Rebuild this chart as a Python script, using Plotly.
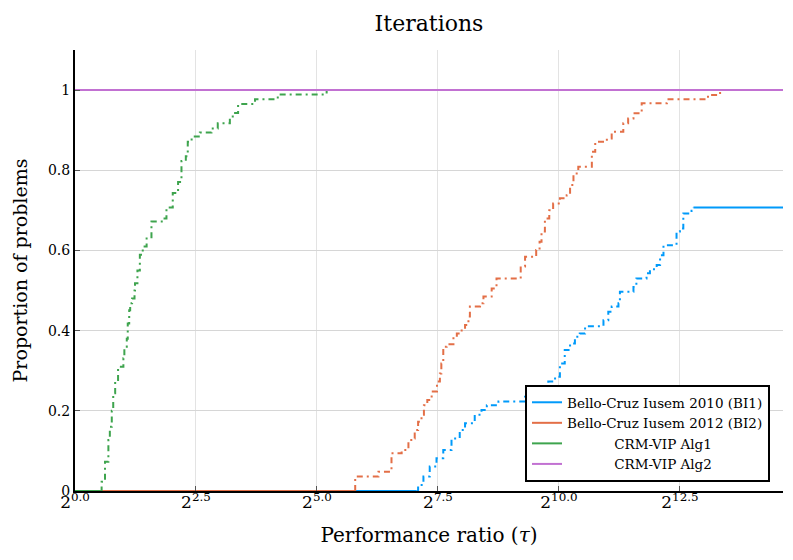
import plotly.graph_objects as go

# ---- data (x values are log2(tau); y values are proportion of problems) ----
series_names = ["Bello-Cruz Iusem 2010 (BI1)", "Bello-Cruz Iusem 2012 (BI2)",
                "CRM-VIP Alg1", "CRM-VIP Alg2"]
series_colors = ["#009AFA", "#E36F47", "#3EA44E", "#C271D2"]

bi1_log2tau = [7.06, 7.09, 7.20, 7.33, 7.47, 7.61, 7.78, 7.95, 8.06, 8.26, 8.40, 8.51, 8.75,
               9.30, 9.46, 9.68, 9.78, 9.92, 10.02, 10.12, 10.23, 10.33, 10.43, 10.54,
               10.92, 11.02, 11.09, 11.23, 11.26, 11.54, 11.60, 11.81, 11.88, 12.02, 12.09,
               12.16, 12.43, 12.50, 12.57, 12.74, 12.78]
bi1_prop = [0.0, 0.015, 0.036, 0.061, 0.082, 0.102, 0.131, 0.152, 0.169, 0.19, 0.202, 0.214, 0.223,
            0.235, 0.245, 0.256, 0.273, 0.285, 0.318, 0.352, 0.368, 0.385, 0.393, 0.411,
            0.426, 0.447, 0.46, 0.468, 0.497, 0.509, 0.53, 0.543, 0.553, 0.564, 0.588,
            0.613, 0.647, 0.655, 0.692, 0.699, 0.707]

bi2_log2tau = [5.79, 6.27, 6.54, 6.75, 6.89, 6.99, 7.02, 7.09, 7.16, 7.21, 7.28, 7.37, 7.48,
               7.54, 7.57, 7.61, 7.68, 7.82, 7.89, 7.99, 8.06, 8.13, 8.16, 8.37, 8.44, 8.61,
               8.71, 9.21, 9.30, 9.53, 9.60, 9.64, 9.71, 9.80, 9.88, 10.02, 10.16, 10.23,
               10.30, 10.40, 10.68, 10.75, 10.99, 11.09, 11.33, 11.43, 11.54, 11.71, 12.23,
               13.08, 13.33]
bi2_prop = [0.036, 0.048, 0.094, 0.102, 0.127, 0.131, 0.152, 0.173, 0.19, 0.214, 0.227, 0.248, 0.273,
            0.293, 0.318, 0.36, 0.366, 0.381, 0.393, 0.403, 0.414, 0.435, 0.46, 0.468, 0.485, 0.505,
            0.53, 0.56, 0.584, 0.601, 0.622, 0.647, 0.68, 0.70, 0.717, 0.73, 0.738, 0.763,
            0.792, 0.809, 0.846, 0.871, 0.879, 0.896, 0.917, 0.929, 0.942, 0.967, 0.977,
            0.988, 1.0]

alg1_log2tau = [0.52, 0.55, 0.62, 0.69, 0.72, 0.76, 0.79, 0.83, 0.89, 1.00, 1.02, 1.07, 1.09,
                1.12, 1.14, 1.18, 1.23, 1.24, 1.29, 1.34, 1.40, 1.48, 1.58, 1.82, 1.89, 2.02,
                2.13, 2.20, 2.29, 2.33, 2.41, 2.58, 2.82, 2.95, 3.20, 3.26, 3.37, 3.72, 4.19,
                5.20]
alg1_prop = [0.0, 0.023, 0.073, 0.127, 0.16, 0.2, 0.244, 0.277, 0.31, 0.331, 0.36, 0.38, 0.418,
             0.451, 0.468, 0.48, 0.50, 0.518, 0.55, 0.589, 0.61, 0.63, 0.672, 0.68, 0.707, 0.743,
             0.771, 0.823, 0.835, 0.871, 0.884, 0.894, 0.904, 0.917, 0.930, 0.943, 0.965, 0.977,
             0.989, 1.0]

alg2_log2tau = [0.0]
alg2_prop = [1.0]

x_ticks = [0.0, 2.5, 5.0, 7.5, 10.0, 12.5]
x_tick_labels = ["2<sup>0.0</sup>", "2<sup>2.5</sup>", "2<sup>5.0</sup>",
                 "2<sup>7.5</sup>", "2<sup>10.0</sup>", "2<sup>12.5</sup>"]
y_ticks = [0, 0.2, 0.4, 0.6, 0.8, 1.0]
y_tick_labels = ["0", "0.2", "0.4", "0.6", "0.8", "1"]

X_MAX = 14.63
Y_MAX = 1.1

FONT = "DejaVu Serif"
NB = "&nbsp;"
legend_labels = [series_names[0], series_names[1],
                 NB * 11 + series_names[2], NB * 11 + series_names[3]]

all_x = [bi1_log2tau, bi2_log2tau, alg1_log2tau, alg2_log2tau]
all_y = [bi1_prop, bi2_prop, alg1_prop, alg2_prop]

fig = go.Figure()
DASH = "6px,4px,2px,4px"
for i in range(4):
    xs, ys, col = all_x[i], all_y[i], series_colors[i]
    if len(xs) > 1:
        # solid start segment (flat at zero before first solved problem)
        fig.add_trace(go.Scatter(x=[0, xs[0]], y=[0, 0], mode="lines",
                                 line=dict(color=col, width=2), name=legend_labels[i],
                                 legendgroup=str(i), showlegend=True))
        fig.add_trace(go.Scatter(x=[xs[0]] + xs, y=[0] + ys, mode="lines", line_shape="hv",
                                 line=dict(color=col, width=2, dash=DASH),
                                 legendgroup=str(i), showlegend=False))
        fig.add_trace(go.Scatter(x=[xs[-1], X_MAX], y=[ys[-1], ys[-1]], mode="lines",
                                 line=dict(color=col, width=2),
                                 legendgroup=str(i), showlegend=False))
    else:
        fig.add_trace(go.Scatter(x=[xs[0], X_MAX], y=[ys[0], ys[0]], mode="lines",
                                 line=dict(color=col, width=2), name=legend_labels[i],
                                 legendgroup=str(i), showlegend=True))

# page body has an 8px margin, so the figure is sized to fit the 793x560 window
W, H = 777, 544
fig.update_layout(
    width=W, height=H,
    margin=dict(l=67, r=2, t=42, b=61),
    paper_bgcolor="white", plot_bgcolor="white",
    font=dict(family=FONT, color="black"),
    title=dict(text="Iterations", x=(67 + (W - 2)) / 2 / W, xanchor="center",
               y=1 - 15 / H, yanchor="middle", yref="container",
               font=dict(size=22, family=FONT)),
    xaxis=dict(range=[0, X_MAX], tickvals=x_ticks, ticktext=x_tick_labels,
               showgrid=True, gridcolor="#e3e3e3", gridwidth=1,
               showline=True, linecolor="black", linewidth=2,
               ticks="inside", ticklen=5, tickcolor="#555", tickwidth=1,
               tickfont=dict(size=17, family=FONT), zeroline=False, automargin=False,
               ticklabelstandoff=-5,
               title=dict(text="Performance ratio (<i>τ</i>)",
                          font=dict(size=20, family=FONT), standoff=17)),
    yaxis=dict(range=[0, Y_MAX], tickvals=y_ticks, ticktext=y_tick_labels,
               showgrid=True, gridcolor="#d6d6d6", gridwidth=1,
               showline=True, linecolor="black", linewidth=2,
               ticks="inside", ticklen=5, tickcolor="#555", tickwidth=1,
               tickfont=dict(size=14, family=FONT), zeroline=False, automargin=False,
               title=dict(text="Proportion of problems",
                          font=dict(size=19, family=FONT), standoff=15)),
    legend=dict(x=(770 - 75) / 708, xanchor="right", y=(491 - 482) / 441, yanchor="bottom",
                bgcolor="white", bordercolor="black", borderwidth=2,
                font=dict(size=13.5, family=FONT), traceorder="normal"),
    showlegend=True,
)

fig.write_html("out.html")
